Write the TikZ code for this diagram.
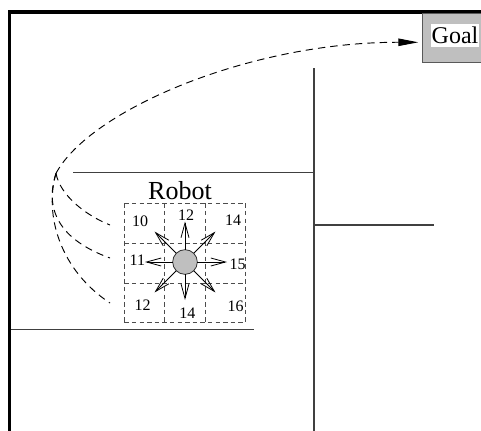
\documentclass[tikz,border=0pt]{standalone}
\usepackage{fontspec}
\setmainfont{Liberation Serif}
\usetikzlibrary{arrows.meta}

\begin{document}
\begin{tikzpicture}[x=0.75pt,y=-0.75pt,
  wall/.style={draw=black!75, line width=0.9pt},
  border/.style={line width=2.7pt, line join=miter},
  cellgrid/.style={draw=black!70, line width=0.6pt, dash pattern=on 3.4pt off 2.3pt},
  route/.style={line width=0.7pt, dash pattern=on 5.5pt off 3.8pt},
  vec/.style={line width=0.6pt, -{Straight Barb[length=11pt, width=6pt, line join=miter]}},
  cost/.style={font=\fontsize{12}{12}\selectfont, inner sep=0pt}]
\useasboundingbox (0,0) rectangle (481,430);
\clip (0,0) rectangle (481,430);

% outer walls
\draw[border] (9.5,432) -- (9.5,11.7) -- (483,11.7);

% inner walls
\draw[wall] (314,68) -- (314,432);
\draw[wall] (73,172.7) -- (314,172.7);
\draw[wall] (314,225) -- (434,225);
\draw[wall] (11,329.3) -- (254,329.3);

% goal marker
\node[draw=black!65, fill=black!25, line width=0.8pt, anchor=north west,
      minimum width=66pt, minimum height=36.3pt, inner sep=0pt] (goalbox) at (421.7,13.3) {};
\node[fill=white, inner xsep=0.6pt, inner ysep=2.5pt, font=\fontsize{18}{18}\selectfont]
      (goal) at (455,35.5) {Goal};

% neighbourhood grid around the robot
\foreach \gx in {124.3,164.7,205,245.7}
  \draw[cellgrid] (\gx,203.3) -- (\gx,322.7);
\foreach \gy in {203.3,243.3,283.3,322.7}
  \draw[cellgrid] (124.3,\gy) -- (245.7,\gy);

% cell costs
\node[cost] (c10) at (140,221.7) {10};
\node[cost] (c12a) at (186,215) {12};
\node[cost] (c14a) at (233,220.7) {14};
\node[cost] (c11) at (137.3,260.5) {11};
\node[cost] (c15) at (237.5,264) {15};
\node[cost] (c12b) at (142.5,305) {12};
\node[cost] (c14b) at (187.3,313) {14};
\node[cost] (c16) at (235.5,306) {16};

% robot and its moves
\node[font=\fontsize{19.5}{19.5}\selectfont, inner sep=0pt] (label) at (180,191) {Robot};
\node[circle, draw=black!80, fill=black!25, line width=0.6pt, minimum size=18.5pt, inner sep=0pt]
      (robot) at (185,262) {};
\foreach \a/\r in {0/42,90/38,180/40,270/40.5,45/43,135/43,225/43,315/43}
  \draw[vec, shift={(robot.center)}] (\a:12.3) -- (\a:\r);

% candidate routes to the goal
\coordinate (cusp) at (56,173.3);
\coordinate (goalin) at (418.3,42.3);
\coordinate (s1) at (110,225);
\coordinate (s2) at (110,258);
\coordinate (s3) at (110,303);
\draw[route, -{Triangle[length=15pt, width=5.6pt]}]
  (cusp) .. controls (90,110) and (250,42) .. (goalin);
\draw[route] (cusp) .. controls (60,195) and (85,215) .. (s1);
\draw[route] (cusp) .. controls (44,210) and (60,240) .. (s2);
\draw[route] (cusp) .. controls (44,215) and (60,270) .. (s3);
\end{tikzpicture}
\end{document}
